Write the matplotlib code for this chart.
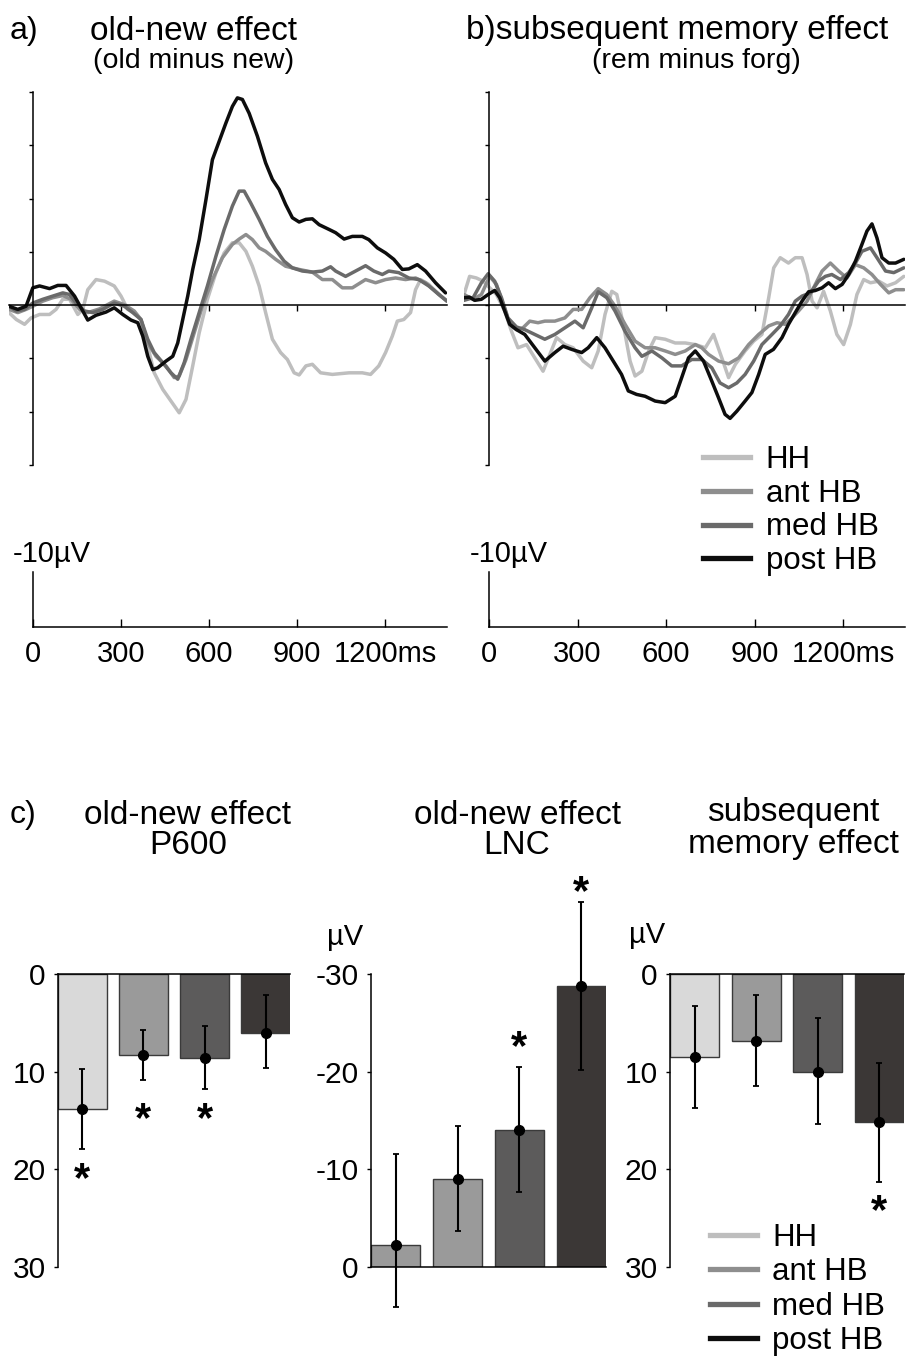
import numpy as np
import matplotlib.pyplot as plt
from matplotlib.lines import Line2D

plt.rcParams['font.family'] = ['Liberation Sans', 'DejaVu Sans']

W, H = 907, 1358

groups = ['HH', 'ant HB', 'med HB', 'post HB']
line_colors = ['#bebebe', '#8e8e8e', '#6a6a6a', '#0d0d0d']
bar_colors = ['#d9d9d9', '#9a9a9a', '#5c5b5b', '#3b3736']

# a) old minus new  (time in ms, amplitude in µV, negative plotted up)
a_hh_t = [-80, -55, -27, -5, 24, 58, 80, 103, 126, 154, 171, 188, 216, 245, 278, 301, 324, 346, 369, 392,
          414, 443, 471, 499, 522, 545, 567, 595, 624, 652, 680, 703, 726, 748, 771, 793, 816, 844, 867, 890,
          907, 930, 952, 980, 1020, 1077, 1122, 1150, 1178, 1201, 1224, 1241, 1263, 1286, 1303, 1320, 1348, 1382, 1410]
a_hh_v = [1.4, 2.7, 3.6, 2.4, 1.75, 1.75, 0.8, -1.1, -1.1, 1.75, 0.8, -2.9, -4.8, -4.5, -3.6, -1.7, 0.8, 1.4, 2.7, 7.7,
          12.7, 15.8, 18.0, 20.2, 17.7, 11.4, 5.2, -1.1, -6.1, -9.8, -11.7, -11.7, -10.1, -7.3, -3.6, 1.4, 6.4, 8.9, 10.2, 12.7,
          13.1, 11.4, 11.1, 12.7, 13.0, 12.7, 12.7, 13.0, 11.4, 8.9, 5.8, 3.0, 2.7, 1.4, -2.9, -4.8, -3.9, -2.0, -0.75]
a_ant_t = [-80, -50, -22, 1, 35, 69, 103, 131, 160, 188, 228, 278, 312, 346, 369, 392, 420, 454, 482, 499,
           522, 550, 578, 612, 646, 680, 703, 726, 748, 771, 793, 827, 861, 907, 952, 986, 1020, 1054, 1088, 1133,
           1167, 1201, 1235, 1269, 1303, 1337, 1371, 1410]
a_ant_v = [0.8, 1.4, 0.8, 0.2, -0.75, -1.4, -1.8, -1.1, 0.8, 1.4, 0.7, -0.75, -0.1, 1.1, 2.7, 7.1, 9.6, 11.4, 13.6, 13.3,
           10.2, 5.2, 0.2, -4.8, -8.9, -11.4, -12.4, -13.25, -12.3, -10.75, -10.1, -8.6, -7.3, -6.7, -6.2, -4.8, -4.8, -3.25, -3.25, -4.8,
           -4.2, -4.8, -5.1, -4.8, -5.1, -4.2, -2.6, -0.75]
a_med_t = [-80, -55, -27, 1, 35, 69, 103, 126, 148, 177, 205, 239, 278, 312, 341, 369, 392, 414, 443, 471,
           494, 516, 539, 567, 595, 624, 652, 680, 703, 720, 742, 771, 799, 827, 856, 884, 918, 952, 986, 1014,
           1031, 1065, 1099, 1133, 1161, 1190, 1212, 1246, 1280, 1314, 1348, 1382, 1410]
a_med_v = [0.2, 1.1, 0.8, -0.4, -1.1, -1.7, -2.3, -2.0, -0.4, 1.1, 1.4, 0.8, -0.4, 0.2, 1.4, 2.7, 6.4, 8.9, 10.8, 12.7,
           13.9, 10.8, 6.4, 1.4, -3.6, -9.2, -14.2, -18.6, -21.4, -21.4, -19.2, -16.1, -12.9, -10.4, -8.25, -7.0, -6.4, -6.2, -6.4, -7.2,
           -6.4, -5.4, -6.4, -7.4, -6.4, -5.75, -6.4, -6.1, -5.1, -4.8, -3.6, -2.0, -0.75]
a_post_t = [-80, -50, -22, 1, 24, 58, 86, 114, 143, 165, 188, 216, 250, 278, 307, 335, 358, 375, 392, 409,
            426, 454, 477, 494, 511, 528, 545, 567, 590, 612, 635, 658, 680, 697, 714, 737, 765, 793, 816, 839,
            861, 884, 907, 930, 952, 975, 1009, 1031, 1060, 1088, 1122, 1144, 1173, 1201, 1229, 1258, 1280, 1309, 1337, 1371, 1405]
a_post_v = [0.2, 0.8, 0.2, -3.25, -3.6, -3.1, -3.7, -3.7, -1.7, 0.5, 2.8, 1.9, 1.3, 0.5, 1.75, 2.8, 3.3, 5.8, 9.6, 12.1,
            11.75, 10.5, 9.6, 7.1, 2.7, -1.7, -6.7, -12.3, -19.8, -27.3, -30.75, -34.2, -37.3, -38.9, -38.6, -36.0, -31.7, -26.7, -23.6, -21.7,
            -18.9, -16.4, -15.6, -16.1, -16.2, -15.1, -14.2, -13.6, -12.4, -12.9, -12.9, -12.3, -10.75, -9.8, -8.6, -6.7, -6.8, -7.6, -6.4, -4.2, -2.3]

# b) remembered minus forgotten
b_hh_t = [-85, -66, -43, -20, 2, 25, 53, 76, 98, 127, 155, 183, 206, 229, 257, 285, 319, 348, 370, 393,
          416, 433, 455, 478, 495, 518, 541, 563, 597, 631, 665, 699, 733, 761, 789, 812, 835, 868, 897, 925,
          948, 965, 987, 1015, 1038, 1061, 1078, 1095, 1112, 1134, 1157, 1179, 1202, 1225, 1247, 1270, 1293, 1321, 1349, 1378, 1406]
b_hh_v = [-2.0, -5.4, -5.1, -4.5, -3.25, -2.0, 1.1, 4.9, 8.0, 7.4, 9.9, 12.4, 9.25, 6.1, 7.4, 8.0, 10.5, 11.75, 8.6, 1.75,
          -2.6, -2.0, 3.6, 10.5, 13.3, 12.4, 8.6, 6.1, 6.4, 7.1, 7.1, 7.4, 8.0, 5.5, 9.9, 13.6, 11.1, 8.6, 6.75, 5.5,
          -1.4, -7.0, -8.9, -7.9, -8.9, -8.9, -5.75, -0.75, 0.5, -2.6, 1.1, 5.5, 7.4, 3.6, -2.0, -4.8, -4.2, -4.5, -3.6, -4.2, -5.4]
b_ant_t = [-85, -54, -26, 2, 25, 48, 70, 93, 115, 138, 166, 189, 223, 257, 285, 314, 342, 370, 399, 427,
           461, 495, 529, 563, 597, 631, 665, 699, 721, 744, 778, 812, 846, 880, 914, 948, 976, 1004, 1027, 1049,
           1078, 1106, 1129, 1157, 1185, 1213, 1242, 1270, 1298, 1327, 1355, 1378, 1406]
b_ant_v = [-2.0, -1.1, -2.0, -5.4, -3.9, -0.1, 3.6, 4.6, 4.25, 3.0, 3.3, 3.0, 3.0, 2.4, 0.8, 0.8, -1.4, -3.1, -2.0, 0.2,
           3.6, 6.75, 8.0, 8.0, 8.6, 9.25, 8.6, 7.4, 8.0, 9.25, 10.5, 11.0, 9.9, 7.4, 5.5, 3.9, 3.3, 3.6, 2.4, 1.1,
           -0.75, -3.9, -6.4, -7.9, -6.4, -5.1, -7.6, -7.0, -5.75, -3.9, -2.3, -2.9, -2.9]
b_med_t = [-85, -54, -26, -3, 19, 42, 64, 93, 121, 155, 189, 223, 257, 291, 319, 348, 370, 399, 427, 461,
           495, 518, 552, 586, 619, 653, 687, 721, 755, 783, 812, 840, 868, 897, 925, 959, 987, 1015, 1038, 1061,
           1089, 1117, 1140, 1162, 1191, 1219, 1242, 1264, 1293, 1315, 1344, 1372, 1406]
b_med_v = [-0.9, -1.4, -4.2, -5.9, -4.5, -1.4, 2.4, 4.1, 4.6, 5.5, 6.4, 5.5, 4.25, 3.0, 4.25, 0.5, -2.5, -1.4, 1.1, 4.9,
           8.0, 9.6, 8.6, 9.9, 11.4, 11.4, 10.2, 10.2, 11.75, 14.6, 15.5, 14.6, 13.0, 10.5, 7.4, 5.5, 3.9, 1.75, -0.75, -1.7,
           -2.3, -4.5, -5.4, -5.75, -4.8, -6.1, -7.9, -10.1, -10.75, -8.9, -6.4, -6.1, -7.0]
b_post_t = [-85, -66, -49, -26, -3, 19, 36, 53, 70, 93, 121, 155, 189, 223, 251, 280, 314, 336, 365, 393,
            421, 449, 472, 500, 529, 563, 597, 631, 653, 676, 699, 727, 755, 778, 800, 817, 840, 868, 891, 914,
            936, 964, 993, 1015, 1038, 1061, 1083, 1106, 1129, 1151, 1174, 1197, 1219, 1242, 1264, 1281, 1298, 1315, 1332, 1355, 1378, 1406]
b_post_v = [-1.4, -1.5, -0.9, -1.1, -2.0, -2.75, -1.4, 1.1, 3.6, 4.6, 5.5, 8.0, 10.5, 8.9, 7.7, 8.3, 8.9, 8.0, 6.1, 8.0,
            10.5, 13.0, 16.1, 16.75, 17.1, 18.0, 18.3, 17.1, 13.6, 9.9, 8.6, 10.5, 14.25, 17.4, 20.5, 21.25, 19.9, 18.0, 16.4, 13.0,
            9.25, 8.3, 6.1, 3.6, 1.4, -0.75, -2.5, -2.75, -3.25, -4.2, -3.1, -3.9, -5.75, -8.25, -11.4, -13.9, -15.25, -12.6, -8.9, -7.9, -7.9, -8.6]

time_ticks = [0, 300, 600, 900, 1200]
time_labels = ['0', '300', '600', '900', '1200ms']

# c) mean amplitudes (µV) with error bar extents
p600_vals = [13.8, 8.3, 8.6, 6.0]
p600_err_minus = [4.1, 2.6, 3.3, 3.85]
p600_err_plus = [4.1, 2.55, 3.2, 3.65]
p600_star_y = [20.4, 14.3, 14.3, None]

lnc_vals = [-2.3, -9.0, -14.0, -28.8]
lnc_err_minus = [9.3, 5.4, 6.5, 8.6]
lnc_err_plus = [6.4, 5.3, 6.3, 8.6]
lnc_star_y = [None, None, -23.1, -38.9]

sme_vals = [8.45, 6.9, 10.0, 15.2]
sme_err_minus = [5.2, 4.7, 5.5, 6.1]
sme_err_plus = [5.25, 4.6, 5.4, 6.1]
sme_star_y = [None, None, None, 23.7]

fig = plt.figure(figsize=(W / 100, H / 100), dpi=100)


def px_axes(x0, y0, x1, y1):
    return fig.add_axes([x0 / W, 1 - y1 / H, (x1 - x0) / W, (y1 - y0) / H])


def ftext(x, y, s, **kw):
    fig.text(x / W, 1 - y / H, s, **kw)


def erp_panel(ax, traces, t0):
    for (t, v), c in zip(traces, line_colors):
        ax.plot(t, v, color=c, lw=2.5, solid_joinstyle='round', solid_capstyle='round', zorder=2)
    ax.set_xlim(t0, 1410)
    ax.set_ylim(30, -40)
    ax.spines['top'].set_visible(False)
    ax.spines['right'].set_visible(False)
    ax.spines['left'].set_position(('data', 0))
    ax.spines['bottom'].set_position(('data', 0))
    for s in ['left', 'bottom']:
        ax.spines[s].set_linewidth(1.1)
        ax.spines[s].set_zorder(3)
    ax.set_yticks(range(-40, 31, 10))
    ax.set_xticks(time_ticks[1:])
    ax.tick_params(axis='y', direction='out', length=3, width=1, labelleft=False)
    ax.tick_params(axis='x', direction='out', length=4, width=1, labelbottom=False)
    ax.patch.set_alpha(0)


def scale_panel(ax, t0):
    ax.set_xlim(t0, 1410)
    ax.set_ylim(0, -10)
    ax.spines['top'].set_visible(False)
    ax.spines['right'].set_visible(False)
    ax.spines['left'].set_position(('data', 0))
    ax.spines['bottom'].set_bounds(0, 1410)
    for s in ['left', 'bottom']:
        ax.spines[s].set_linewidth(1.1)
    ax.set_yticks([])
    ax.set_xticks(time_ticks)
    ax.set_xticklabels(time_labels)
    ax.tick_params(axis='x', direction='in', length=6, width=1, labelsize=21, pad=9.5)
    ax.annotate('-10\u00b5V', xy=(0, -10), xytext=(-14, 3), textcoords='offset points',
                ha='left', va='bottom', fontsize=21)
    ax.patch.set_alpha(0)


def bar_panel(ax, vals, err_minus, err_plus, colors, ylim, ticks, star_y, spine):
    x = np.arange(len(vals))
    ax.bar(x, vals, width=0.8, color=colors, edgecolor='#3a3a3a', linewidth=1.0, zorder=2)
    eb = ax.errorbar(x, vals, yerr=[err_minus, err_plus], fmt='o', color='k', ms=7,
                     elinewidth=1.5, capsize=2.5, capthick=1.3, zorder=3)
    eb.lines[0].set_clip_on(False)
    for art in list(eb.lines[1]) + list(eb.lines[2]):
        art.set_clip_on(False)
    for xi, sy in zip(x, star_y):
        if sy is not None:
            ax.annotate('*', xy=(xi, sy), xytext=(0, -12.5), textcoords='offset points',
                        ha='center', va='baseline', fontsize=30, fontweight='bold', annotation_clip=False)
    ax.set_xlim(-0.4, 3.4)
    ax.set_ylim(*ylim)
    for s in ['top', 'bottom', 'right']:
        ax.spines[s].set_visible(s == spine)
    for s in ['left', spine]:
        ax.spines[s].set_linewidth(1.1)
    ax.set_xticks([])
    ax.set_yticks(ticks)
    ax.set_yticklabels([str(t) for t in ticks])
    ax.tick_params(axis='y', direction='out', length=3, width=1, labelsize=21.5, pad=6)
    ax.patch.set_alpha(0)


# waveforms
ax_a = px_axes(9, 92, 447, 465)
erp_panel(ax_a, [(a_hh_t, a_hh_v), (a_ant_t, a_ant_v), (a_med_t, a_med_v), (a_post_t, a_post_v)], -80)
ax_b = px_axes(464, 92, 905, 465)
erp_panel(ax_b, [(b_hh_t, b_hh_v), (b_ant_t, b_ant_v), (b_med_t, b_med_v), (b_post_t, b_post_v)], -85)

scale_panel(px_axes(9, 572, 447, 627), -80)
scale_panel(px_axes(464, 572, 905, 627), -85)

ftext(10, 31, 'a)', fontsize=23, va='center', ha='left')
ftext(193, 31, 'old-new effect', fontsize=24, va='center', ha='center')
ftext(194, 61, '(old minus new)', fontsize=20.5, va='center', ha='center')
ftext(466, 31, 'b)subsequent memory effect', fontsize=24, va='center', ha='left')
ftext(696, 61, '(rem minus forg)', fontsize=20.5, va='center', ha='center')

handles = [Line2D([], [], color=c, lw=3.8) for c in line_colors]
fig.legend(handles, groups, loc='upper left', bbox_to_anchor=(703 / W, 1 - 445 / H),
           frameon=False, fontsize=22.5, handlelength=1.5, handletextpad=0.5,
           labelspacing=0.12, borderpad=0, borderaxespad=0)

# bar charts
ax_p600 = px_axes(58, 974, 290, 1267)
bar_panel(ax_p600, p600_vals, p600_err_minus, p600_err_plus, bar_colors, (30, 0),
          [0, 10, 20, 30], p600_star_y, 'top')
ax_lnc = px_axes(371, 974, 606, 1267)
bar_panel(ax_lnc, lnc_vals, lnc_err_minus, lnc_err_plus, [bar_colors[1]] + bar_colors[1:], (0, -30),
          [0, -10, -20, -30], lnc_star_y, 'bottom')
ax_sme = px_axes(670, 974, 904, 1267)
bar_panel(ax_sme, sme_vals, sme_err_minus, sme_err_plus, bar_colors, (30, 0),
          [0, 10, 20, 30], sme_star_y, 'top')

ftext(10, 815, 'c)', fontsize=23, va='center', ha='left')
ftext(188, 815, 'old-new effect', fontsize=24, va='center', ha='center')
ftext(188, 846, 'P600', fontsize=24, va='center', ha='center')
ftext(517, 815, 'old-new effect', fontsize=24, va='center', ha='center')
ftext(517, 846, 'LNC', fontsize=24, va='center', ha='center')
ftext(793, 812, 'subsequent', fontsize=24, va='center', ha='center')
ftext(793, 845, 'memory effect', fontsize=24, va='center', ha='center')
ftext(345, 937, '\u00b5V', fontsize=21, va='center', ha='center')
ftext(647, 935, '\u00b5V', fontsize=21, va='center', ha='center')

bar_handles = [Line2D([], [], color=c, lw=3.8) for c in line_colors]
fig.legend(bar_handles, groups, loc='upper left', bbox_to_anchor=(710 / W, 1 - 1223 / H),
           frameon=False, fontsize=22.5, handlelength=1.5, handletextpad=0.5,
           labelspacing=0.14, borderpad=0, borderaxespad=0)

fig.savefig('out.png', dpi=100, facecolor='white')
